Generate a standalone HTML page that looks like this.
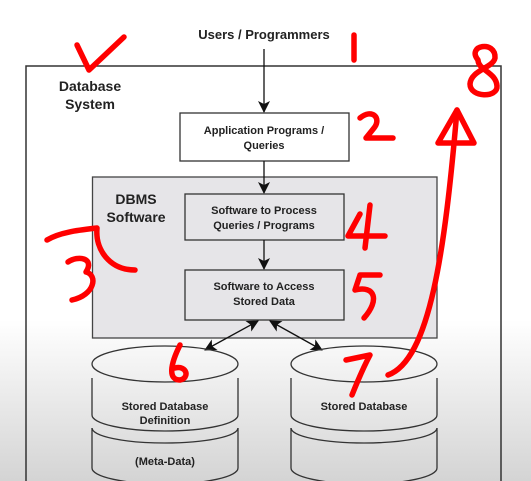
<!DOCTYPE html>
<html><head><meta charset="utf-8"><style>
html,body{margin:0;padding:0;width:531px;height:481px;overflow:hidden}
body{background:linear-gradient(to bottom,#fff 0px,#fff 320px,#d4d4d4 481px)}
svg{position:absolute;left:0;top:0}
text{font-family:"Liberation Sans",Arial,sans-serif;font-weight:bold;fill:#222}
</style></head><body>
<svg width="531" height="481" viewBox="0 0 531 481">
<defs><marker id="a" markerWidth="12" markerHeight="12" refX="11" refY="6" orient="auto" markerUnits="userSpaceOnUse"><path d="M0,0 L12,6 L0,12 L3,6 z" fill="#111"/></marker>
<marker id="b" markerWidth="12" markerHeight="12" refX="1" refY="6" orient="auto" markerUnits="userSpaceOnUse"><path d="M12,0 L0,6 L12,12 L9,6 z" fill="#111"/></marker></defs>
<rect x="26" y="66" width="475" height="430" fill="none" stroke="#333" stroke-width="1.5"/>
<text x="264" y="39" font-size="13" text-anchor="middle">Users / Programmers</text>
<text x="90" y="91" font-size="14" text-anchor="middle">Database</text>
<text x="90" y="109" font-size="14" text-anchor="middle">System</text>
<line x1="264" y1="49" x2="264" y2="112" stroke="#111" stroke-width="1.3" marker-end="url(#a)"/>
<rect x="180" y="113" width="169" height="48" fill="#fff" stroke="#333" stroke-width="1.3"/>
<text x="264" y="134" font-size="11" text-anchor="middle">Application Programs /</text>
<text x="264" y="149" font-size="11" text-anchor="middle">Queries</text>
<rect x="92.5" y="177" width="344.5" height="161" fill="#e6e5e8" stroke="#444" stroke-width="1.3"/>
<text x="136" y="204" font-size="14" text-anchor="middle">DBMS</text>
<text x="136" y="222" font-size="14" text-anchor="middle">Software</text>
<line x1="264" y1="161" x2="264" y2="193" stroke="#111" stroke-width="1.3" marker-end="url(#a)"/>
<rect x="185" y="194" width="159" height="46" fill="#e6e5e8" stroke="#333" stroke-width="1.3"/>
<text x="264" y="214" font-size="11" text-anchor="middle">Software to Process</text>
<text x="264" y="229" font-size="11" text-anchor="middle">Queries / Programs</text>
<line x1="264" y1="240" x2="264" y2="269" stroke="#111" stroke-width="1.3" marker-end="url(#a)"/>
<rect x="185" y="270" width="159" height="50" fill="#e6e5e8" stroke="#333" stroke-width="1.3"/>
<text x="264" y="290" font-size="11" text-anchor="middle">Software to Access</text>
<text x="264" y="305" font-size="11" text-anchor="middle">Stored Data</text>
<line x1="258" y1="321" x2="205" y2="350" stroke="#111" stroke-width="1.3" marker-start="url(#b)" marker-end="url(#a)"/>
<line x1="270" y1="321" x2="322" y2="350" stroke="#111" stroke-width="1.3" marker-start="url(#b)" marker-end="url(#a)"/>
<g fill="none" stroke="#333" stroke-width="1.3">
<g id="cyl">
<ellipse cx="165" cy="364" rx="73" ry="18"/>
<path d="M92,378 V415 A73,16 0 0 0 238,415 V378"/>
<path d="M92,428 V468 A73,16 0 0 0 238,468 V428"/>
<path d="M92,428 A73,15 0 0 0 238,428"/>
</g>
<use href="#cyl" transform="translate(199,0)"/>
</g>
<text x="165" y="410" font-size="11" text-anchor="middle">Stored Database</text>
<text x="165" y="424" font-size="11" text-anchor="middle">Definition</text>
<text x="165" y="465" font-size="11" text-anchor="middle">(Meta-Data)</text>
<text x="364" y="410" font-size="11" text-anchor="middle">Stored Database</text>
<g fill="none" stroke="#f00" stroke-width="5.5" stroke-linecap="round" stroke-linejoin="round">
<path d="M77,45 L89,70 L124,37"/>
<path d="M354,35 L354,60"/>
<path d="M478,60 C466,45 496,40 495,58 C493,68 471,70 470,84 C470,98 498,98 497,86 C496,72 478,70 478,60"/>
<path d="M360,118 C372,108 382,118 374,128 L366,138 L393,138"/>
<path d="M388,375 C430,360 445,250 457,110"/>
<path d="M457,110 L438,143 L474,143 Z"/>
<path d="M47,240 C60,232 80,230 97,228 C95,250 110,270 135,270"/>
<path d="M68,262 C78,255 95,258 86,272 C98,275 95,295 72,300"/>
<path d="M360,214 L348,236 L385,236"/>
<path d="M370,205 L365,248"/>
<path d="M380,275 L360,275 L355,290 C375,285 380,300 364,318"/>
<path d="M180,345 C170,365 168,380 180,380 C190,378 187,365 175,368"/>
<path d="M346,360 L370,355 C362,370 356,385 352,395"/>
</g>
</svg>
</body></html>
